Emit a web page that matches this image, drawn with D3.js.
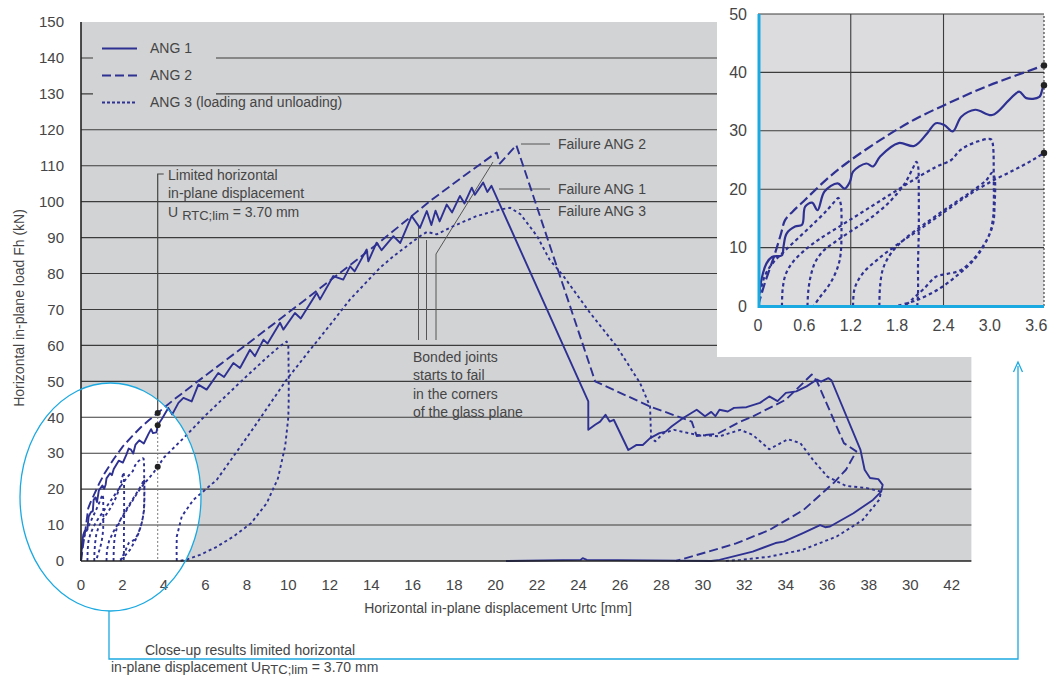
<!DOCTYPE html>
<html>
<head>
<meta charset="utf-8">
<script src="https://cdnjs.cloudflare.com/ajax/libs/d3/7.8.5/d3.min.js"></script>
<style>
    body { margin: 0; background: #fff; }
    svg text { font-family: "Liberation Sans", Arial, sans-serif; fill: #454545; }
</style>
</head>
<body>
<div id="chart"></div>
<script>
// Series values [displacement mm, load kN].
var ang1 = [[0,0],[0.044,4.5],[0.11,7.3],[0.18,8.4],[0.31,8.7],[0.33,10.2],[0.37,12.4],[0.48,13.6],[0.57,13.9],
    [0.61,17.0],[0.70,17.7],[0.77,16.4],[0.86,19.6],[1.03,21.0],[1.12,20.1],[1.19,21.3],[1.23,23.0],[1.40,24.4],
    [1.49,23.9],[1.58,25.6],[1.82,27.9],[2.02,27.4],[2.19,29.6],[2.30,31.3],[2.41,31.0],[2.52,29.9],[2.63,32.4],
    [2.81,33.6],[3.03,32.7],[3.25,35.3],[3.38,36.7],[3.47,35.6],[3.64,35.8],[3.7,37.8],[3.9,39.5],[4.21,42.6],
    [4.4,40.8],[4.7,44],[4.94,45.4],[5.34,44.4],[5.66,49.1],[6.06,47.7],[6.62,52.3],[6.9,51.2],[7.35,55.1],
    [7.67,53.7],[8.15,58.8],[8.39,57],[8.8,61.6],[9.0,60.5],[9.6,66.3],[9.76,64.4],[10.32,69],[10.6,67.5],
    [11.37,74.6],[11.53,72.8],[12.17,79.3],[12.65,78.3],[12.98,82],[13.2,80.6],[13.78,86.7],[13.86,83.4],
    [14.26,88.6],[14.5,86.5],[15.07,90.4],[15.4,88.5],[15.95,96.0],[16.35,92.7],[16.68,97.4],[16.9,93.5],
    [17.1,97.5],[17.3,94.5],[17.64,99.2],[17.9,97],[18.28,101.6],[18.5,99.5],[18.85,103.9],[19.0,101.9],
    [19.4,105.3],[19.6,102.7],[19.8,104.4],[24.47,44.4],[24.47,36.5],[24.8,37.9],[25.04,38.8],[25.3,40.7],
    [25.5,38.8],[25.7,39.3],[26.4,30.9],[26.8,32.3],[27.1,32.3],[27.45,34.2],[27.9,35.6],[28.2,36],[28.5,37.5],
    [29.05,39.8],[29.7,42.1],[30.1,40.3],[30.4,41.5],[30.6,40.3],[30.8,42.1],[31.2,41.6],[31.5,42.6],[32.1,42.8],
    [32.75,44],[33.2,45.8],[33.6,44.5],[34.0,46.8],[34.5,47.2],[35.0,48.6],[35.5,50.5],[35.7,49.9],[36.05,50.9],
    [36.2,50.3],[37.6,30.9],[37.8,25.4],[38.06,23.1],[38.46,22.8],[38.67,21.2],[38.6,19.3],[38.2,17],[37.26,13.3],
    [36.13,9.6],[35.9,9.4],[35.65,10],[34.8,7.7],[33.9,5.4],[33.5,5],[32.4,2.6],[30.8,0.3],[30.4,0],[24.4,0.3],
    [24.2,0.8],[24.1,0.3],[20.5,0]];

var ang2 = [[0,0],[0.088,3.9],[0.22,9.0],[0.3,12.5],[0.35,14.7],[0.45,16.2],[0.61,18.2],[0.88,21.6],[1.14,24.4],
    [1.58,28.4],[2.02,31.9],[2.46,34.7],[2.9,37.3],[3.3,39.3],[3.7,41.2],[4.5,45],[6,51.6],[8,60.3],[10,69.1],
    [12,78],[14.42,88.8],[16.84,100.2],[18.5,107.3],[20.05,113.7],[20.2,110.6],[21.0,115.7],[24.8,50],[27.45,43],
    [29.46,38.8],[29.7,34.8],[30.7,35.4],[31.8,38.8],[32.4,40.2],[34.0,44.9],[35.25,51.9],[35.5,50],[36.8,32.8],
    [37.4,30.5],[36.9,25.4],[36.3,21.7],[34.85,14.2],[33.2,8.6],[31.6,4.9],[30.8,3.5],[28.7,0]];

// Loading and unloading cycles, null where the pen lifts.
var ang3 = [[0,0],[0.04,3],[0.1,5.5],[0.2,7.5],[0.35,9.5],[0.55,12],[0.75,14.5],[0.9,16.5],[1.0,18],[1.04,18.5],
    [1.07,17.5],[1.08,13],[1.07,9],[1.04,7],[0.98,5],[0.9,3.2],[0.8,1.5],[0.72,0],
    null,
    [0.64,0],[0.65,2.5],[0.68,5],[0.74,7.5],[0.85,9.5],[1.0,11],[1.2,12.8],[1.45,15],[1.7,17.8],[1.9,21],[2.0,23.5],
    [2.05,24.7],[2.07,24],[2.08,19],[2.08,13],[2.07,7],[2.07,2],[2.06,0],
    null,
    [0.31,0],[0.32,3],[0.36,5.5],[0.45,7.5],[0.6,9.5],[0.8,11.5],[1.1,14],[1.4,16.5],[1.7,19],[2.0,21.5],[2.3,23.8],
    [2.5,25],[2.6,26.5],[2.7,27.4],[2.85,28.2],[2.97,28.6],[3.02,28.5],[3.04,27.5],[3.05,22],[3.05,17],[3.04,15],
    [3.0,12.5],[2.9,10],[2.75,7.5],[2.6,6],[2.45,5.5],[2.3,5],[2.15,3],[2.0,1.2],[1.9,0],
    null,
    [1.57,0],[1.58,3.5],[1.62,6.5],[1.72,9],[1.9,11.5],[2.15,14],[2.45,16.8],[2.75,19.5],[2.95,21.5],[3.03,22.8],
    [3.06,22],[3.06,17],[3.04,14],[2.95,11],[2.8,8],[2.6,5.5],[2.35,3],[2.05,1],[1.79,0],
    null,
    [1.23,0],[1.25,3],[1.35,5.5],[1.55,8],[1.8,10.5],[2.1,13.2],[2.4,16],[2.7,18.8],[3.0,21.2],[3.3,23.2],[3.5,24.6],
    [3.7,26.2],[4.0,28.8],[5.0,34.5],[6.0,40.5],[7.0,46],[8.0,51.5],[9.0,56.8],[9.6,59.8],[9.92,61.1],
    [10.0,60],[10.02,52],[10.02,45],[10.0,40],[9.85,32],[9.5,23],[8.96,16.1],[8.2,10.5],[7.35,6.8],[6.5,3.8],
    [5.74,1.7],[5.1,0.4],[4.75,0],
    null,
    [4.62,0],[4.61,3],[4.62,6.8],[4.86,12.4],[5.42,17],[6.55,22.6],[8.2,36],[9.92,50.5],[11.0,58.4],[12.0,65.6],
    [12.98,72.8],[14.42,81.6],[15.07,84.8],[16.35,90.4],[16.7,91.6],[17.16,90.9],[17.96,93.2],[19.09,96],[20.2,97.8],
    [20.7,98.3],[21.2,96.5],[22.0,90.4],[22.6,83.9],[23.27,79.3],[24.55,69.1],[25.84,59.7],[26.97,49.5],[27.45,43],
    [27.5,34.2],[27.7,33.3],[28.1,35.6],[28.6,36.5],[29.7,35.1],[30.8,34.7],[31.8,36.5],[32.4,35.1],[33.2,31.1],
    [34.1,33.9],[34.7,32.8],[35.3,28.2],[36.0,23.5],[36.9,20.9],[37.9,20.3],[38.6,19.3],[38.5,17],[37.7,11.4],
    [36.45,6.8],[34.8,3.1],[33.2,1.2],[31.8,0.3],[31.0,0]];

// Load of each series at the limited displacement.
var uLim = 3.7;
var limLoads = [41.2, 37.8, 26.2];

// Tick values and labels (the 40 mm label reads "30" in the original).
var xTicks = [0,2,4,6,8,10,12,14,16,18,20,22,24,26,28,30,32,34,36,38,40,42];
var xTickLabels = ["0","2","4","6","8","10","12","14","16","18","20","22","24","26","28","30","32","34","36","38","30","42"];
var yTicks = [0,10,20,30,40,50,60,70,80,90,100,110,120,130,140,150];
var insetXTicks = [0,0.6,1.2,1.8,2.4,3.0,3.6];
var insetXLabels = ["0","0.6","1.2","1.8","2.4","3.0","3.6"];
var insetYTicks = [0,10,20,30,40,50];

var series = [
    { name: "ANG 1", data: ang1, dash: null },
    { name: "ANG 2", data: ang2, dash: "9,4" },
    { name: "ANG 3 (loading and unloading)", data: ang3, dash: "3,3" }
];

var blue = "#2e3192";
var cyan = "#1ba9e1";
var gray = "#d2d3d5";
var grid = "#3c3c3c";

var svg = d3.select("#chart").append("svg")
    .attr("width", 1060)
    .attr("height", 678);

// Main chart scales.
var x = d3.scaleLinear().domain([0, 42]).range([81, 951.7]);
var y = d3.scaleLinear().domain([0, 150]).range([561, 22]);
var xEnd = x(42.95);

// Background and close-up ellipse.
svg.append("rect")
    .attr("x", x(0)).attr("y", y(150))
    .attr("width", xEnd - x(0)).attr("height", y(0) - y(150))
    .attr("fill", gray);

var ell = { cx: 110.5, cy: 497, rx: 90.5, ry: 114 };

svg.append("ellipse")
    .attr("cx", ell.cx).attr("cy", ell.cy)
    .attr("rx", ell.rx).attr("ry", ell.ry)
    .attr("fill", "#fff");

// Horizontal gridlines.
svg.append("g").selectAll("line")
    .data(yTicks.filter(d => d > 0 && d < 150))
    .enter().append("line")
    .attr("x1", x(0)).attr("x2", xEnd)
    .attr("y1", d => y(d)).attr("y2", d => y(d))
    .attr("stroke", grid).attr("stroke-width", 1.1);

// Legend (its box hides the gridlines behind it).
svg.append("rect")
    .attr("x", 93).attr("y", 36).attr("width", 123).attr("height", 76)
    .attr("fill", gray);

var legend = svg.append("g").selectAll("g")
    .data(series)
    .enter().append("g")
    .attr("transform", (d, i) => "translate(0," + (48.5 + i * 27) + ")");

legend.append("line")
    .attr("x1", 102).attr("x2", 137)
    .attr("stroke", blue).attr("stroke-width", 2)
    .attr("stroke-dasharray", d => d.dash === "3,3" ? "3,2" : d.dash);

legend.append("text")
    .attr("x", 150).attr("dy", "0.35em")
    .style("font-size", "14px")
    .text(d => d.name);

// Limited displacement marker.
var lim = svg.append("g").attr("stroke", "#444").attr("fill", "none");
lim.append("path")
    .attr("d", "M" + (x(uLim) + 6) + "," + 174 + "H" + x(uLim) + "V" + y(limLoads[0]))
    .attr("stroke-width", 1.2);
lim.append("line")
    .attr("x1", x(uLim)).attr("x2", x(uLim))
    .attr("y1", y(limLoads[0])).attr("y2", y(0))
    .attr("stroke", "#777").attr("stroke-dasharray", "2,2");

// Leader lines for the failure labels and the bonded joints note.
var leaders = svg.append("g").attr("stroke", "#555").attr("stroke-width", 1).attr("fill", "none");
[[521, 144], [499, 189], [519, 209.5]].forEach(function(p) {
    leaders.append("line").attr("x1", p[0]).attr("x2", 550).attr("y1", p[1]).attr("y2", p[1]);
});
leaders.append("path").attr("d", "M418.5,340V226");
leaders.append("path").attr("d", "M426.5,340V240");
leaders.append("path").attr("d", "M436,340V254L493,162");

// Curves: straight segments on the main chart, smoothed in the close-up.
var mainLine = d3.line()
    .defined(d => d !== null)
    .x(d => x(d[0]))
    .y(d => y(d[1]));

svg.append("g").selectAll("path")
    .data(series)
    .enter().append("path")
    .attr("d", d => mainLine(d.data))
    .attr("fill", "none")
    .attr("stroke", blue)
    .attr("stroke-width", 1.9)
    .attr("stroke-linejoin", "round")
    .attr("stroke-dasharray", d => d.dash);

svg.append("g").selectAll("circle")
    .data(limLoads)
    .enter().append("circle")
    .attr("cx", x(uLim)).attr("cy", d => y(d)).attr("r", 3)
    .attr("fill", "#222");

// Axes lines.
svg.append("line")
    .attr("x1", x(0)).attr("x2", xEnd).attr("y1", y(0)).attr("y2", y(0))
    .attr("stroke", "#222").attr("stroke-width", 1.6);
svg.append("line")
    .attr("x1", x(0)).attr("x2", x(0)).attr("y1", y(150)).attr("y2", y(0))
    .attr("stroke", "#222").attr("stroke-width", 1.6);

// Tick labels.
svg.append("g").selectAll("text")
    .data(yTicks)
    .enter().append("text")
    .attr("x", 64).attr("y", d => y(d)).attr("dy", "0.35em")
    .attr("text-anchor", "end")
    .style("font-size", "15px")
    .text(d => d);

svg.append("g").selectAll("text")
    .data(xTicks)
    .enter().append("text")
    .attr("x", d => x(d)).attr("y", 585).attr("dy", "0.35em")
    .attr("text-anchor", "middle")
    .style("font-size", "15px")
    .text((d, i) => xTickLabels[i]);

svg.append("text")
    .attr("x", 498).attr("y", 608).attr("dy", "0.35em")
    .attr("text-anchor", "middle")
    .style("font-size", "14px")
    .text("Horizontal in-plane displacement Urtc [mm]");

svg.append("text")
    .attr("transform", "translate(19,308) rotate(-90)")
    .attr("dy", "0.35em")
    .attr("text-anchor", "middle")
    .style("font-size", "14px")
    .text("Horizontal in-plane load Fh (kN)");

svg.append("ellipse")
    .attr("cx", ell.cx).attr("cy", ell.cy)
    .attr("rx", ell.rx).attr("ry", ell.ry)
    .attr("fill", "none")
    .attr("stroke", cyan).attr("stroke-width", 1.3);

// Annotation texts.
function label(tx, ty, str) {
    return svg.append("text")
        .attr("x", tx).attr("y", ty).attr("dy", "0.35em")
        .style("font-size", "14px")
        .text(str);
}

label(168, 175, "Limited horizontal");
label(168, 193.5, "in-plane displacement");
var ulim = label(168, 212, "U");
ulim.append("tspan").attr("dx", 4).attr("dy", 3).style("font-size", "13px").text("RTC;lim");
ulim.append("tspan").attr("dy", -3).text(" = 3.70 mm");

label(558, 144, "Failure ANG 2");
label(558, 189, "Failure ANG 1");
label(558, 211, "Failure ANG 3");

["Bonded joints", "starts to fail", "in the corners", "of the glass plane"].forEach(function(s, i) {
    label(413, 357 + i * 18.3, s);
});

// Close-up inset.
svg.append("rect")
    .attr("x", 717).attr("y", 0).attr("width", 343).attr("height", 357)
    .attr("fill", "#fff");

var ix = d3.scaleLinear().domain([0, 3.7]).range([758, 1044]);
var iy = d3.scaleLinear().domain([0, 50]).range([306, 14]);

svg.append("clipPath").attr("id", "insetClip")
    .append("rect")
    .attr("x", ix(0)).attr("y", iy(50))
    .attr("width", ix(3.7) - ix(0)).attr("height", iy(0) - iy(50));

svg.append("rect")
    .attr("x", ix(0)).attr("y", iy(50))
    .attr("width", ix(3.7) - ix(0)).attr("height", iy(0) - iy(50))
    .attr("fill", "#dcdcde");

var ig = svg.append("g");
ig.selectAll(".hgrid")
    .data(insetYTicks.filter(d => d > 0))
    .enter().append("line")
    .attr("x1", ix(0)).attr("x2", ix(3.7))
    .attr("y1", d => iy(d)).attr("y2", d => iy(d))
    .attr("stroke", grid).attr("stroke-width", 1.1);
ig.selectAll(".vgrid")
    .data([1.2, 2.4])
    .enter().append("line")
    .attr("x1", d => ix(d)).attr("x2", d => ix(d))
    .attr("y1", iy(0)).attr("y2", iy(50))
    .attr("stroke", grid).attr("stroke-width", 1.1);
ig.append("line")
    .attr("x1", ix(uLim)).attr("x2", ix(uLim))
    .attr("y1", iy(0)).attr("y2", iy(50))
    .attr("stroke", "#222").attr("stroke-dasharray", "2,2");

var insetLine = d3.line()
    .defined(d => d !== null)
    .curve(d3.curveCatmullRom.alpha(0.5))
    .x(d => ix(d[0]))
    .y(d => iy(d[1]));

ig.append("g").attr("clip-path", "url(#insetClip)")
    .selectAll("path")
    .data(series)
    .enter().append("path")
    .attr("d", d => insetLine(d.data))
    .attr("fill", "none")
    .attr("stroke", blue)
    .attr("stroke-width", 2.2)
    .attr("stroke-linejoin", "round")
    .attr("stroke-dasharray", d => d.dash === "3,3" ? "3.5,3" : (d.dash ? "10,4" : null));

ig.selectAll("circle")
    .data(limLoads)
    .enter().append("circle")
    .attr("cx", ix(uLim)).attr("cy", d => iy(d)).attr("r", 3.2)
    .attr("fill", "#222");

// Cyan axes of the inset.
ig.append("path")
    .attr("d", "M" + (ix(0) + 1) + "," + iy(50) + "V" + (iy(0) + 0.5) + "H" + ix(3.7))
    .attr("fill", "none")
    .attr("stroke", cyan).attr("stroke-width", 3);

ig.selectAll(".ylab")
    .data(insetYTicks)
    .enter().append("text")
    .attr("x", 747).attr("y", d => iy(d)).attr("dy", "0.35em")
    .attr("text-anchor", "end")
    .style("font-size", "16px")
    .text(d => d);

ig.selectAll(".xlab")
    .data(insetXTicks)
    .enter().append("text")
    .attr("x", d => ix(d)).attr("y", 325).attr("dy", "0.35em")
    .attr("text-anchor", "middle")
    .style("font-size", "16px")
    .text((d, i) => insetXLabels[i]);

// Connector from the ellipse to the inset.
svg.append("path")
    .attr("d", "M109," + (ell.cy + ell.ry) + "V659H1018V366")
    .attr("fill", "none")
    .attr("stroke", cyan).attr("stroke-width", 1.3);
svg.append("path")
    .attr("d", "M1013.5,372L1018,362L1022.5,372")
    .attr("fill", "none")
    .attr("stroke", cyan).attr("stroke-width", 1.3);

label(145, 650, "Close-up results limited horizontal");
var bottom = label(111, 667, "in-plane displacement U");
bottom.append("tspan").attr("dy", 2.5).style("font-size", "13px").text("RTC;lim");
bottom.append("tspan").attr("dy", -2.5).text(" = 3.70 mm");
</script>
</body>
</html>
